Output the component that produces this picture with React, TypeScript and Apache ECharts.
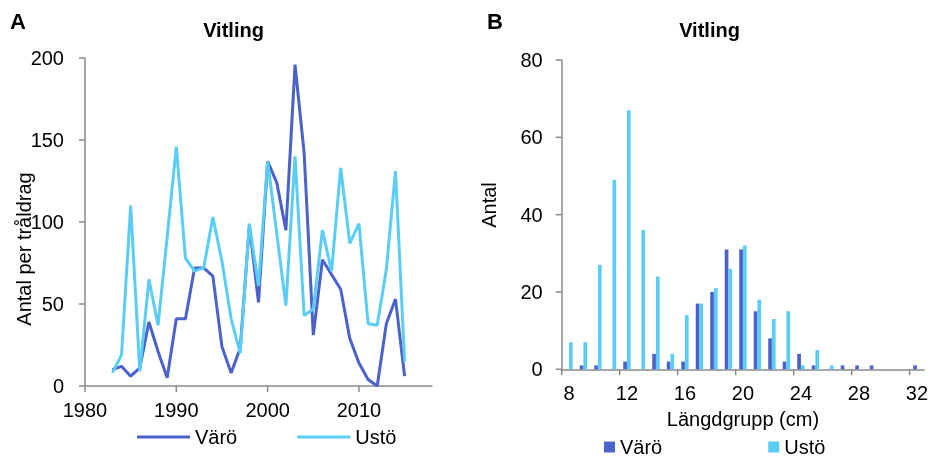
import React, { useEffect, useRef } from "react";
import * as echarts from "echarts";

const years = [1983, 1984, 1985, 1986, 1987, 1988, 1989, 1990, 1991, 1992, 1993, 1994, 1995, 1996, 1997, 1998, 1999, 2000, 2001, 2002, 2003, 2004, 2005, 2006, 2007, 2008, 2009, 2010, 2011, 2012, 2013, 2014, 2015];
const varoCatch = [10, 12, 6, 11, 39, 21, 5, 41, 41, 72, 72, 67, 24, 8, 23, 98, 51, 137, 124, 95, 196, 142, 31, 77, 68, 59, 29, 14, 4, 0, 38, 53, 6];
const ustoCatch = [8, 19, 110, 9, 65, 37, 91, 146, 78, 70, 72, 103, 76, 41, 20, 99, 61, 137, 93, 49, 140, 43, 47, 95, 70, 133, 87, 99, 38, 37, 71, 131, 15];
const yearTicks = [1980, 1990, 2000, 2010];
const catchTicks = [0, 50, 100, 150, 200];

const lengthGroups = ["8", "9", "10", "11", "12", "13", "14", "15", "16", "17", "18", "19", "20", "21", "22", "23", "24", "25", "26", "27", "28", "29", "30", "31", "32"];
const varoLength = [0, 1, 1, 0, 2, 0, 4, 2, 2, 17, 20, 31, 31, 15, 8, 2, 4, 1, 0, 1, 1, 1, 0, 0, 1];
const ustoLength = [7, 7, 27, 49, 67, 36, 24, 4, 14, 17, 21, 26, 32, 18, 13, 15, 1, 5, 1, 0, 0, 0, 0, 0, 0];
const lengthTickGroups = ["8", "12", "16", "20", "24", "28", "32"];
const countTicks = [0, 20, 40, 60, 80];

const FONT = "'Liberation Sans', Arial, sans-serif";
const DARK = "#4B62CB";
const LIGHT = "#5ACDF5";
const AXIS = "#8a8a8a";
const TICK = 6;

export default function App() {
  const ref = useRef<HTMLDivElement>(null);
  useEffect(() => {
    const chart = echarts.init(ref.current!, null, { renderer: "svg" });
    const axisLine = { show: true, lineStyle: { color: AXIS, width: 1.5 } };
    const label = { color: "#000", fontSize: 20, fontFamily: FONT };
    const texts: any[] = [
      { type: "text", x: 10, y: 21, style: { text: "A", font: `bold 22px ${FONT}`, fill: "#000", textVerticalAlign: "middle" } },
      { type: "text", x: 487, y: 21, style: { text: "B", font: `bold 22px ${FONT}`, fill: "#000", textVerticalAlign: "middle" } },
      { type: "text", x: 233.5, y: 30, style: { text: "Vitling", font: `bold 20px ${FONT}`, fill: "#000", textAlign: "center", textVerticalAlign: "middle" } },
      { type: "text", x: 709.5, y: 30, style: { text: "Vitling", font: `bold 20px ${FONT}`, fill: "#000", textAlign: "center", textVerticalAlign: "middle" } },
      { type: "text", x: 24, y: 249, rotation: Math.PI / 2, style: { text: "Antal per tråldrag", font: `20px ${FONT}`, fill: "#000", textAlign: "center", textVerticalAlign: "middle" } },
      { type: "text", x: 489, y: 205, rotation: Math.PI / 2, style: { text: "Antal", font: `20px ${FONT}`, fill: "#000", textAlign: "center", textVerticalAlign: "middle" } },
    ];
    chart.setOption({
      animation: false,
      textStyle: { fontFamily: FONT },
      grid: [
        { left: 85, top: 58, width: 347, height: 328 },
        { left: 561.7, top: 60, width: 363.8, height: 309.3 },
      ],
      xAxis: [
        {
          type: "value", gridIndex: 0, min: 1980, max: 2018, interval: 10,
          axisLine, splitLine: { show: false }, axisTick: { show: false },
          axisLabel: { ...label, margin: 14, showMaxLabel: false, formatter: (v: number) => (v % 10 === 0 ? String(v) : "") },
        },
        {
          type: "category", gridIndex: 1, data: lengthGroups,
          axisLine, axisTick: { show: false },
          axisLabel: { ...label, interval: 3, margin: 14 },
          name: "Längdgrupp (cm)", nameLocation: "middle", nameGap: 40,
          nameTextStyle: { color: "#000", fontSize: 20, fontFamily: FONT },
        },
      ],
      yAxis: [
        {
          type: "value", gridIndex: 0, min: 0, max: 200, interval: 50,
          axisLine, splitLine: { show: false }, axisTick: { show: false },
          axisLabel: { ...label, margin: 21 },
        },
        {
          type: "value", gridIndex: 1, min: 0, max: 80, interval: 20,
          axisLine, splitLine: { show: false }, axisTick: { show: false },
          axisLabel: { ...label, margin: 19 },
        },
      ],
      legend: [
        {
          left: 137, top: 427, padding: 0, itemWidth: 53, itemHeight: 3, itemGap: 60,
          data: [{ name: "Värö", icon: "rect" }, { name: "Ustö", icon: "rect" }],
          textStyle: { color: "#000", fontSize: 20, fontFamily: FONT },
        },
        {
          left: 604, top: 437, padding: 0, itemWidth: 11, itemHeight: 11, itemGap: 106,
          data: [{ name: "Värö", icon: "rect" }, { name: "Ustö", icon: "rect" }],
          textStyle: { color: "#000", fontSize: 20, fontFamily: FONT },
        },
      ],
      series: [
        {
          name: "Värö", type: "line", xAxisIndex: 0, yAxisIndex: 0, symbol: "none",
          data: years.map((y, i) => [y, varoCatch[i]]),
          lineStyle: { color: DARK, width: 3 }, itemStyle: { color: DARK },
        },
        {
          name: "Ustö", type: "line", xAxisIndex: 0, yAxisIndex: 0, symbol: "none",
          data: years.map((y, i) => [y, ustoCatch[i]]),
          lineStyle: { color: LIGHT, width: 3 }, itemStyle: { color: LIGHT },
        },
        {
          name: "Värö", type: "bar", xAxisIndex: 1, yAxisIndex: 1,
          data: varoLength, barWidth: 3.7, barGap: "0%",
          itemStyle: { color: DARK },
        },
        {
          name: "Ustö", type: "bar", xAxisIndex: 1, yAxisIndex: 1,
          data: ustoLength, barWidth: 3.7, barGap: "0%",
          itemStyle: { color: LIGHT },
        },
      ],
      graphic: texts,
    });

    // axis ticks, positioned through the chart's own scales
    const tickStyle = { stroke: AXIS, lineWidth: 1.5 };
    const ticks: any[] = [];
    const axA = chart.convertToPixel({ xAxisIndex: 0 }, 1980) as number;
    const baseA = chart.convertToPixel({ yAxisIndex: 0 }, 0) as number;
    yearTicks.forEach((v) => {
      const x = chart.convertToPixel({ xAxisIndex: 0 }, v) as number;
      ticks.push({ type: "line", shape: { x1: x, y1: baseA, x2: x, y2: baseA + TICK }, style: tickStyle, silent: true });
    });
    catchTicks.forEach((v) => {
      const y = chart.convertToPixel({ yAxisIndex: 0 }, v) as number;
      ticks.push({ type: "line", shape: { x1: axA - TICK, y1: y, x2: axA, y2: y }, style: tickStyle, silent: true });
    });
    const c0 = chart.convertToPixel({ xAxisIndex: 1 }, lengthGroups[0]) as number;
    const c1 = chart.convertToPixel({ xAxisIndex: 1 }, lengthGroups[1]) as number;
    const half = (c1 - c0) / 2;
    const axB = c0 - half;
    const baseB = chart.convertToPixel({ yAxisIndex: 1 }, 0) as number;
    lengthTickGroups.forEach((g) => {
      const x = (chart.convertToPixel({ xAxisIndex: 1 }, g) as number) - half;
      ticks.push({ type: "line", shape: { x1: x, y1: baseB, x2: x, y2: baseB + TICK }, style: tickStyle, silent: true });
    });
    countTicks.forEach((v) => {
      const y = chart.convertToPixel({ yAxisIndex: 1 }, v) as number;
      ticks.push({ type: "line", shape: { x1: axB - TICK, y1: y, x2: axB, y2: y }, style: tickStyle, silent: true });
    });
    chart.setOption({ graphic: [...texts, ...ticks] }, { replaceMerge: ["graphic"] });

    return () => chart.dispose();
  }, []);
  return <div ref={ref} style={{ position: "fixed", left: 0, top: 0, width: 931, height: 459 }} />;
}
